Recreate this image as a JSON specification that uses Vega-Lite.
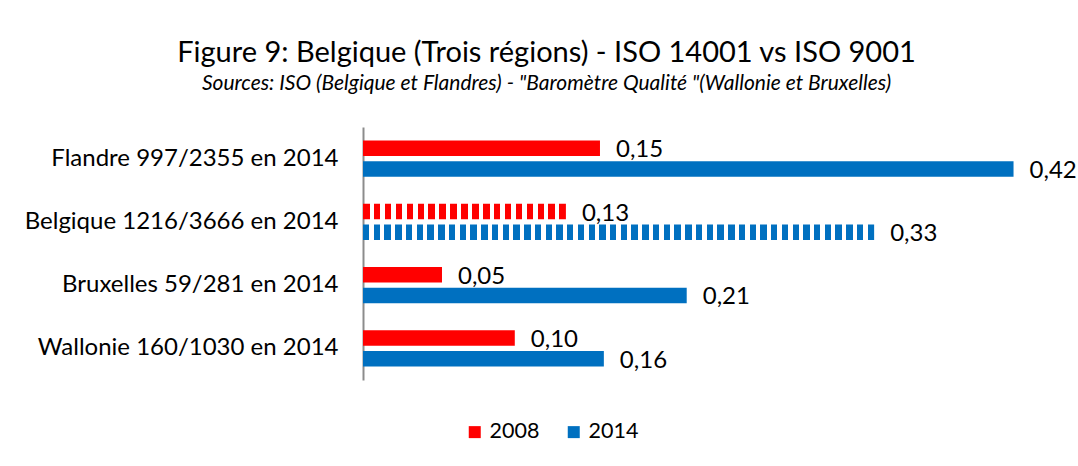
{
  "$schema": "https://vega.github.io/schema/vega-lite/v6.json",
  "autosize": {"type": "none"},
  "width": 697,
  "height": 253,
  "padding": {"left": 363, "top": 127, "right": 18, "bottom": 86},
  "background": "white",
  "title": {
    "text": "Figure 9: Belgique (Trois régions) - ISO 14001 vs ISO 9001",
    "subtitle": "Sources: ISO (Belgique et Flandres) - \"Baromètre Qualité \"(Wallonie et Bruxelles)",
    "anchor": "middle",
    "frame": "group",
    "dx": -165,
    "offset": 33,
    "fontSize": 29,
    "fontWeight": "normal",
    "font": "Lato",
    "color": "#000000",
    "subtitleFont": "Lato",
    "subtitleFontSize": 21,
    "subtitleFontStyle": "italic",
    "subtitleColor": "#000000",
    "subtitlePadding": 5
  },
  "data": {
    "values": [
      {"region": "Flandre 997/2355 en 2014", "year": "2008", "value": 0.153},
      {"region": "Flandre 997/2355 en 2014", "year": "2014", "value": 0.42},
      {"region": "Belgique 1216/3666 en 2014", "year": "2008", "value": 0.131},
      {"region": "Belgique 1216/3666 en 2014", "year": "2014", "value": 0.33},
      {"region": "Bruxelles 59/281 en 2014", "year": "2008", "value": 0.051},
      {"region": "Bruxelles 59/281 en 2014", "year": "2014", "value": 0.209},
      {"region": "Wallonie 160/1030 en 2014", "year": "2008", "value": 0.098},
      {"region": "Wallonie 160/1030 en 2014", "year": "2014", "value": 0.1555}
    ]
  },
  "encoding": {
    "y": {
      "field": "region",
      "type": "nominal",
      "sort": ["Flandre 997/2355 en 2014", "Belgique 1216/3666 en 2014", "Bruxelles 59/281 en 2014", "Wallonie 160/1030 en 2014"],
      "scale": {"paddingInner": 0.43, "paddingOuter": 0.215},
      "axis": {
        "title": null,
        "ticks": false,
        "labelPadding": 25,
        "labelLimit": 400,
        "labelFont": "Lato",
        "labelFontSize": 24,
        "labelColor": "#000000",
        "domainColor": "#8c8c8c",
        "domainWidth": 2,
        "grid": false
      }
    },
    "x": {
      "field": "value",
      "type": "quantitative",
      "scale": {"domain": [0, 0.45], "nice": false},
      "axis": null
    },
    "yOffset": {
      "field": "year",
      "type": "nominal",
      "scale": {"domain": ["2008", "2014"], "paddingInner": 0.244, "paddingOuter": 0}
    }
  },
  "layer": [
    {
      "transform": [{"filter": "datum.region !== 'Belgique 1216/3666 en 2014'"}],
      "mark": {"type": "bar"},
      "encoding": {
        "color": {
          "field": "year",
          "type": "nominal",
          "scale": {"domain": ["2008", "2014"], "range": ["#ff0000", "#0070c0"]},
          "legend": {
            "title": null,
            "orient": "none",
            "direction": "horizontal",
            "legendX": 101,
            "legendY": 294,
            "symbolType": "square",
            "symbolSize": 144,
            "symbolStrokeWidth": 0,
            "labelFont": "Lato",
            "labelFontSize": 21.5,
            "labelColor": "#000000",
            "labelOffset": 4,
            "columnPadding": 23
          }
        }
      }
    },
    {
      "transform": [{"filter": "datum.region === 'Belgique 1216/3666 en 2014' && datum.year === '2008'"}],
      "mark": {
        "type": "bar",
        "color": {
          "gradient": "linear", "x1": 0, "y1": 0, "x2": 1, "y2": 0,
          "stops": [
            {"offset": 0, "color": "#ff0000"}, {"offset": 0.03226, "color": "#ff0000"}, {"offset": 0.03226, "color": "#ffffff"}, {"offset": 0.05376, "color": "#ffffff"},
            {"offset": 0.05376, "color": "#ff0000"}, {"offset": 0.08602, "color": "#ff0000"}, {"offset": 0.08602, "color": "#ffffff"}, {"offset": 0.10753, "color": "#ffffff"},
            {"offset": 0.10753, "color": "#ff0000"}, {"offset": 0.13978, "color": "#ff0000"}, {"offset": 0.13978, "color": "#ffffff"}, {"offset": 0.16129, "color": "#ffffff"},
            {"offset": 0.16129, "color": "#ff0000"}, {"offset": 0.19355, "color": "#ff0000"}, {"offset": 0.19355, "color": "#ffffff"}, {"offset": 0.21505, "color": "#ffffff"},
            {"offset": 0.21505, "color": "#ff0000"}, {"offset": 0.24731, "color": "#ff0000"}, {"offset": 0.24731, "color": "#ffffff"}, {"offset": 0.26882, "color": "#ffffff"},
            {"offset": 0.26882, "color": "#ff0000"}, {"offset": 0.30108, "color": "#ff0000"}, {"offset": 0.30108, "color": "#ffffff"}, {"offset": 0.32258, "color": "#ffffff"},
            {"offset": 0.32258, "color": "#ff0000"}, {"offset": 0.35484, "color": "#ff0000"}, {"offset": 0.35484, "color": "#ffffff"}, {"offset": 0.37634, "color": "#ffffff"},
            {"offset": 0.37634, "color": "#ff0000"}, {"offset": 0.40860, "color": "#ff0000"}, {"offset": 0.40860, "color": "#ffffff"}, {"offset": 0.43011, "color": "#ffffff"},
            {"offset": 0.43011, "color": "#ff0000"}, {"offset": 0.46237, "color": "#ff0000"}, {"offset": 0.46237, "color": "#ffffff"}, {"offset": 0.48387, "color": "#ffffff"},
            {"offset": 0.48387, "color": "#ff0000"}, {"offset": 0.51613, "color": "#ff0000"}, {"offset": 0.51613, "color": "#ffffff"}, {"offset": 0.53763, "color": "#ffffff"},
            {"offset": 0.53763, "color": "#ff0000"}, {"offset": 0.56989, "color": "#ff0000"}, {"offset": 0.56989, "color": "#ffffff"}, {"offset": 0.59140, "color": "#ffffff"},
            {"offset": 0.59140, "color": "#ff0000"}, {"offset": 0.62366, "color": "#ff0000"}, {"offset": 0.62366, "color": "#ffffff"}, {"offset": 0.64516, "color": "#ffffff"},
            {"offset": 0.64516, "color": "#ff0000"}, {"offset": 0.67742, "color": "#ff0000"}, {"offset": 0.67742, "color": "#ffffff"}, {"offset": 0.69892, "color": "#ffffff"},
            {"offset": 0.69892, "color": "#ff0000"}, {"offset": 0.73118, "color": "#ff0000"}, {"offset": 0.73118, "color": "#ffffff"}, {"offset": 0.75269, "color": "#ffffff"},
            {"offset": 0.75269, "color": "#ff0000"}, {"offset": 0.78495, "color": "#ff0000"}, {"offset": 0.78495, "color": "#ffffff"}, {"offset": 0.80645, "color": "#ffffff"},
            {"offset": 0.80645, "color": "#ff0000"}, {"offset": 0.83871, "color": "#ff0000"}, {"offset": 0.83871, "color": "#ffffff"}, {"offset": 0.86022, "color": "#ffffff"},
            {"offset": 0.86022, "color": "#ff0000"}, {"offset": 0.89247, "color": "#ff0000"}, {"offset": 0.89247, "color": "#ffffff"}, {"offset": 0.91398, "color": "#ffffff"},
            {"offset": 0.91398, "color": "#ff0000"}, {"offset": 0.94624, "color": "#ff0000"}, {"offset": 0.94624, "color": "#ffffff"}, {"offset": 0.96774, "color": "#ffffff"},
            {"offset": 0.96774, "color": "#ff0000"}, {"offset": 1, "color": "#ff0000"}
          ]
        }
      }
    },
    {
      "transform": [{"filter": "datum.region === 'Belgique 1216/3666 en 2014' && datum.year === '2014'"}],
      "mark": {
        "type": "bar",
        "color": {
          "gradient": "linear", "x1": 0, "y1": 0, "x2": 1, "y2": 0,
          "stops": [
            {"offset": 0, "color": "#0070c0"}, {"offset": 0.01261, "color": "#0070c0"}, {"offset": 0.01261, "color": "#ffffff"}, {"offset": 0.02101, "color": "#ffffff"},
            {"offset": 0.02101, "color": "#0070c0"}, {"offset": 0.03361, "color": "#0070c0"}, {"offset": 0.03361, "color": "#ffffff"}, {"offset": 0.04202, "color": "#ffffff"},
            {"offset": 0.04202, "color": "#0070c0"}, {"offset": 0.05462, "color": "#0070c0"}, {"offset": 0.05462, "color": "#ffffff"}, {"offset": 0.06303, "color": "#ffffff"},
            {"offset": 0.06303, "color": "#0070c0"}, {"offset": 0.07563, "color": "#0070c0"}, {"offset": 0.07563, "color": "#ffffff"}, {"offset": 0.08403, "color": "#ffffff"},
            {"offset": 0.08403, "color": "#0070c0"}, {"offset": 0.09664, "color": "#0070c0"}, {"offset": 0.09664, "color": "#ffffff"}, {"offset": 0.10504, "color": "#ffffff"},
            {"offset": 0.10504, "color": "#0070c0"}, {"offset": 0.11765, "color": "#0070c0"}, {"offset": 0.11765, "color": "#ffffff"}, {"offset": 0.12605, "color": "#ffffff"},
            {"offset": 0.12605, "color": "#0070c0"}, {"offset": 0.13866, "color": "#0070c0"}, {"offset": 0.13866, "color": "#ffffff"}, {"offset": 0.14706, "color": "#ffffff"},
            {"offset": 0.14706, "color": "#0070c0"}, {"offset": 0.15966, "color": "#0070c0"}, {"offset": 0.15966, "color": "#ffffff"}, {"offset": 0.16807, "color": "#ffffff"},
            {"offset": 0.16807, "color": "#0070c0"}, {"offset": 0.18067, "color": "#0070c0"}, {"offset": 0.18067, "color": "#ffffff"}, {"offset": 0.18908, "color": "#ffffff"},
            {"offset": 0.18908, "color": "#0070c0"}, {"offset": 0.20168, "color": "#0070c0"}, {"offset": 0.20168, "color": "#ffffff"}, {"offset": 0.21008, "color": "#ffffff"},
            {"offset": 0.21008, "color": "#0070c0"}, {"offset": 0.22269, "color": "#0070c0"}, {"offset": 0.22269, "color": "#ffffff"}, {"offset": 0.23109, "color": "#ffffff"},
            {"offset": 0.23109, "color": "#0070c0"}, {"offset": 0.24370, "color": "#0070c0"}, {"offset": 0.24370, "color": "#ffffff"}, {"offset": 0.25210, "color": "#ffffff"},
            {"offset": 0.25210, "color": "#0070c0"}, {"offset": 0.26471, "color": "#0070c0"}, {"offset": 0.26471, "color": "#ffffff"}, {"offset": 0.27311, "color": "#ffffff"},
            {"offset": 0.27311, "color": "#0070c0"}, {"offset": 0.28571, "color": "#0070c0"}, {"offset": 0.28571, "color": "#ffffff"}, {"offset": 0.29412, "color": "#ffffff"},
            {"offset": 0.29412, "color": "#0070c0"}, {"offset": 0.30672, "color": "#0070c0"}, {"offset": 0.30672, "color": "#ffffff"}, {"offset": 0.31513, "color": "#ffffff"},
            {"offset": 0.31513, "color": "#0070c0"}, {"offset": 0.32773, "color": "#0070c0"}, {"offset": 0.32773, "color": "#ffffff"}, {"offset": 0.33613, "color": "#ffffff"},
            {"offset": 0.33613, "color": "#0070c0"}, {"offset": 0.34874, "color": "#0070c0"}, {"offset": 0.34874, "color": "#ffffff"}, {"offset": 0.35714, "color": "#ffffff"},
            {"offset": 0.35714, "color": "#0070c0"}, {"offset": 0.36975, "color": "#0070c0"}, {"offset": 0.36975, "color": "#ffffff"}, {"offset": 0.37815, "color": "#ffffff"},
            {"offset": 0.37815, "color": "#0070c0"}, {"offset": 0.39076, "color": "#0070c0"}, {"offset": 0.39076, "color": "#ffffff"}, {"offset": 0.39916, "color": "#ffffff"},
            {"offset": 0.39916, "color": "#0070c0"}, {"offset": 0.41176, "color": "#0070c0"}, {"offset": 0.41176, "color": "#ffffff"}, {"offset": 0.42017, "color": "#ffffff"},
            {"offset": 0.42017, "color": "#0070c0"}, {"offset": 0.43277, "color": "#0070c0"}, {"offset": 0.43277, "color": "#ffffff"}, {"offset": 0.44118, "color": "#ffffff"},
            {"offset": 0.44118, "color": "#0070c0"}, {"offset": 0.45378, "color": "#0070c0"}, {"offset": 0.45378, "color": "#ffffff"}, {"offset": 0.46218, "color": "#ffffff"},
            {"offset": 0.46218, "color": "#0070c0"}, {"offset": 0.47479, "color": "#0070c0"}, {"offset": 0.47479, "color": "#ffffff"}, {"offset": 0.48319, "color": "#ffffff"},
            {"offset": 0.48319, "color": "#0070c0"}, {"offset": 0.49580, "color": "#0070c0"}, {"offset": 0.49580, "color": "#ffffff"}, {"offset": 0.50420, "color": "#ffffff"},
            {"offset": 0.50420, "color": "#0070c0"}, {"offset": 0.51681, "color": "#0070c0"}, {"offset": 0.51681, "color": "#ffffff"}, {"offset": 0.52521, "color": "#ffffff"},
            {"offset": 0.52521, "color": "#0070c0"}, {"offset": 0.53782, "color": "#0070c0"}, {"offset": 0.53782, "color": "#ffffff"}, {"offset": 0.54622, "color": "#ffffff"},
            {"offset": 0.54622, "color": "#0070c0"}, {"offset": 0.55882, "color": "#0070c0"}, {"offset": 0.55882, "color": "#ffffff"}, {"offset": 0.56723, "color": "#ffffff"},
            {"offset": 0.56723, "color": "#0070c0"}, {"offset": 0.57983, "color": "#0070c0"}, {"offset": 0.57983, "color": "#ffffff"}, {"offset": 0.58824, "color": "#ffffff"},
            {"offset": 0.58824, "color": "#0070c0"}, {"offset": 0.60084, "color": "#0070c0"}, {"offset": 0.60084, "color": "#ffffff"}, {"offset": 0.60924, "color": "#ffffff"},
            {"offset": 0.60924, "color": "#0070c0"}, {"offset": 0.62185, "color": "#0070c0"}, {"offset": 0.62185, "color": "#ffffff"}, {"offset": 0.63025, "color": "#ffffff"},
            {"offset": 0.63025, "color": "#0070c0"}, {"offset": 0.64286, "color": "#0070c0"}, {"offset": 0.64286, "color": "#ffffff"}, {"offset": 0.65126, "color": "#ffffff"},
            {"offset": 0.65126, "color": "#0070c0"}, {"offset": 0.66387, "color": "#0070c0"}, {"offset": 0.66387, "color": "#ffffff"}, {"offset": 0.67227, "color": "#ffffff"},
            {"offset": 0.67227, "color": "#0070c0"}, {"offset": 0.68487, "color": "#0070c0"}, {"offset": 0.68487, "color": "#ffffff"}, {"offset": 0.69328, "color": "#ffffff"},
            {"offset": 0.69328, "color": "#0070c0"}, {"offset": 0.70588, "color": "#0070c0"}, {"offset": 0.70588, "color": "#ffffff"}, {"offset": 0.71429, "color": "#ffffff"},
            {"offset": 0.71429, "color": "#0070c0"}, {"offset": 0.72689, "color": "#0070c0"}, {"offset": 0.72689, "color": "#ffffff"}, {"offset": 0.73529, "color": "#ffffff"},
            {"offset": 0.73529, "color": "#0070c0"}, {"offset": 0.74790, "color": "#0070c0"}, {"offset": 0.74790, "color": "#ffffff"}, {"offset": 0.75630, "color": "#ffffff"},
            {"offset": 0.75630, "color": "#0070c0"}, {"offset": 0.76891, "color": "#0070c0"}, {"offset": 0.76891, "color": "#ffffff"}, {"offset": 0.77731, "color": "#ffffff"},
            {"offset": 0.77731, "color": "#0070c0"}, {"offset": 0.78992, "color": "#0070c0"}, {"offset": 0.78992, "color": "#ffffff"}, {"offset": 0.79832, "color": "#ffffff"},
            {"offset": 0.79832, "color": "#0070c0"}, {"offset": 0.81092, "color": "#0070c0"}, {"offset": 0.81092, "color": "#ffffff"}, {"offset": 0.81933, "color": "#ffffff"},
            {"offset": 0.81933, "color": "#0070c0"}, {"offset": 0.83193, "color": "#0070c0"}, {"offset": 0.83193, "color": "#ffffff"}, {"offset": 0.84034, "color": "#ffffff"},
            {"offset": 0.84034, "color": "#0070c0"}, {"offset": 0.85294, "color": "#0070c0"}, {"offset": 0.85294, "color": "#ffffff"}, {"offset": 0.86134, "color": "#ffffff"},
            {"offset": 0.86134, "color": "#0070c0"}, {"offset": 0.87395, "color": "#0070c0"}, {"offset": 0.87395, "color": "#ffffff"}, {"offset": 0.88235, "color": "#ffffff"},
            {"offset": 0.88235, "color": "#0070c0"}, {"offset": 0.89496, "color": "#0070c0"}, {"offset": 0.89496, "color": "#ffffff"}, {"offset": 0.90336, "color": "#ffffff"},
            {"offset": 0.90336, "color": "#0070c0"}, {"offset": 0.91597, "color": "#0070c0"}, {"offset": 0.91597, "color": "#ffffff"}, {"offset": 0.92437, "color": "#ffffff"},
            {"offset": 0.92437, "color": "#0070c0"}, {"offset": 0.93697, "color": "#0070c0"}, {"offset": 0.93697, "color": "#ffffff"}, {"offset": 0.94538, "color": "#ffffff"},
            {"offset": 0.94538, "color": "#0070c0"}, {"offset": 0.95798, "color": "#0070c0"}, {"offset": 0.95798, "color": "#ffffff"}, {"offset": 0.96639, "color": "#ffffff"},
            {"offset": 0.96639, "color": "#0070c0"}, {"offset": 0.97899, "color": "#0070c0"}, {"offset": 0.97899, "color": "#ffffff"}, {"offset": 0.98739, "color": "#ffffff"},
            {"offset": 0.98739, "color": "#0070c0"}, {"offset": 1, "color": "#0070c0"}
          ]
        }
      }
    },
    {
      "mark": {"type": "text", "align": "left", "baseline": "middle", "dx": 16, "dy": 2, "font": "Lato", "fontSize": 24, "color": "#000000"},
      "encoding": {
        "text": {"field": "value", "type": "quantitative", "format": ".2f"}
      }
    }
  ],
  "config": {
    "view": {"stroke": null},
    "locale": {
      "number": {"decimal": ",", "thousands": " ", "grouping": [3], "currency": ["", " €"]}
    }
  }
}
